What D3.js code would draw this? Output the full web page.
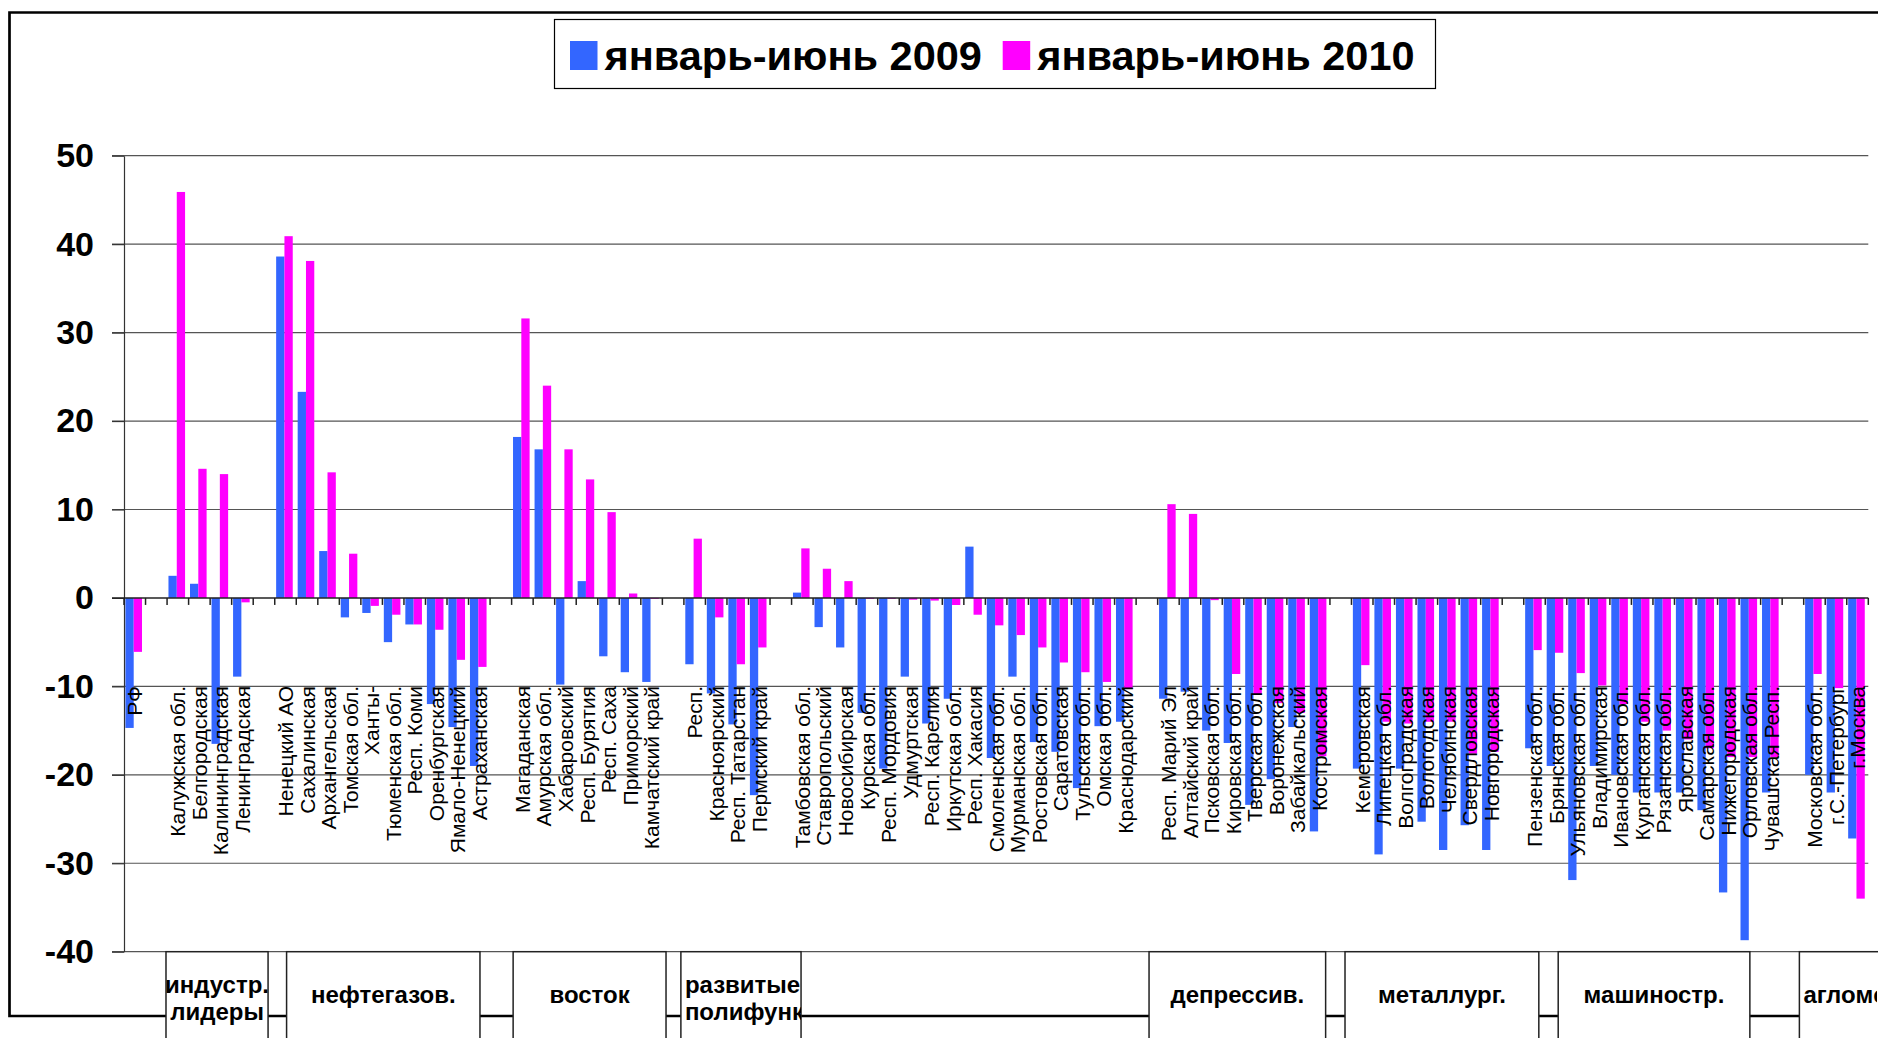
<!DOCTYPE html>
<html>
  <head>
    <meta charset="utf-8">
    <script src="https://d3js.org/d3.v7.min.js"></script>
    <title>январь-июнь 2009 / 2010</title>
    <style>
      html, body {
        margin: 0;
        padding: 0;
        background: white;
      }
      svg text {
        font-family: Arial, "Liberation Sans", sans-serif;
      }
    </style>
  </head>
  <body>
    <svg id="chartSvg" width="1878" height="1038"></svg>
    <script>
      // regions, "" = empty slot between groups
      var regions = [
        "РФ", "",
        "Калужская обл.", "Белгородская", "Калининградская", "Ленинградская", "",
        "Ненецкий АО", "Сахалинская", "Архангельская", "Томская обл.", "Ханты-",
        "Тюменская обл.", "Респ. Коми", "Оренбургская", "Ямало-Ненецкий", "Астраханская", "",
        "Магаданская", "Амурская обл.", "Хабаровский", "Респ. Бурятия", "Респ. Саха",
        "Приморский", "Камчатский край", "",
        "Респ.", "Красноярский", "Респ. Татарстан", "Пермский край", "",
        "Тамбовская обл.", "Ставропольский", "Новосибирская", "Курская обл.", "Респ. Мордовия",
        "Удмуртская", "Респ. Карелия", "Иркутская обл.", "Респ. Хакасия", "Смоленская обл.",
        "Мурманская обл.", "Ростовская обл.", "Саратовская", "Тульская обл.", "Омская обл.",
        "Краснодарский", "",
        "Респ. Марий Эл", "Алтайский край", "Псковская обл.", "Кировская обл.", "Тверская обл.",
        "Воронежская", "Забайкальский", "Костромская", "",
        "Кемеровская", "Липецкая обл.", "Волгоградская", "Вологодская", "Челябинская",
        "Свердловская", "Новгородская", "",
        "Пензенская обл.", "Брянская обл.", "Ульяновская обл.", "Владимирская", "Ивановская обл.",
        "Курганская обл.", "Рязанская обл.", "Ярославская", "Самарская обл.", "Нижегородская",
        "Орловская обл.", "Чувашская Респ.", "",
        "Московская обл.", "г.С.-Петербург", "г.Москва"
      ];

      var jan2009 = [
        -14.7, null,
        2.5, 1.6, -16.5, -8.9, null,
        38.6, 23.3, 5.3, -2.2, -1.7, -5.0, -3.0, -12, -14.6, -19, null,
        18.2, 16.8, -9.8, 1.9, -6.6, -8.4, -9.5, null,
        -7.5, -10.8, -14.3, -22.3, null,
        0.6, -3.3, -5.6, -13, -19.3, -8.9, -14.2, -11.4, 5.8, -18.1, -8.9, -16.3, -17.4, -21.5, -14.5, -14, null,
        -11.4, -10.6, -15, -16.4, -23.4, -20.5, -14.6, -26.4, null,
        -19.3, -29, -19.3, -25.3, -28.5, -25.7, -28.5, null,
        -17, -19, -31.9, -19, -20, -22, -22, -22, -24, -33.3, -38.7, -22, null,
        -20, -22, -27.2
      ];

      var jan2010 = [
        -6.1, null,
        45.9, 14.6, 14.0, -0.5, null,
        40.9, 38.1, 14.2, 5.0, -0.9, -1.9, -3.0, -3.6, -7.0, -7.8, null,
        31.6, 24.0, 16.8, 13.4, 9.7, 0.5, -0.1, null,
        6.7, -2.2, -7.5, -5.6, null,
        5.6, 3.3, 1.9, -0.1, -0.1, -0.2, -0.3, -0.8, -1.9, -3.1, -4.2, -5.6, -7.3, -8.4, -9.5, -10.3, null,
        10.6, 9.5, -0.25, -8.6, -10.9, -11.9, -13, -17.9, null,
        -7.6, -14, -14.2, -14, -14, -17.6, -17.4, null,
        -5.9, -6.2, -8.5, -9.9, -12, -14, -15, -16, -17, -18, -18, -18, null,
        -8.6, -10.2, -34
      ];

      var seriesNames = ["январь-июнь 2009", "январь-июнь 2010"];
      var seriesColors = ["#3366ff", "#ff00ff"];
      var yTicks = [-40, -30, -20, -10, 0, 10, 20, 30, 40, 50];

      // group boxes under the axis: first / last slot (fractional)
      var groupNames = [["индустр.", "лидеры"], ["нефтегазов."], ["восток"], ["развитые", "полифунк"],
                        ["депрессив."], ["металлург."], ["машиностр."], ["агломер."]];
      var groupFrom = [1.95, 7.55, 18.07, 25.86, 47.6, 56.7, 66.6, 77.8];
      var groupTo = [6.69, 16.53, 25.17, 31.44, 55.8, 65.7, 75.5, 84];

      var svg = d3.select("svg"),
          width = +svg.attr("width"),
          height = +svg.attr("height");

      var x = d3.scaleBand()
        .domain(d3.range(regions.length))
        .range([124, 1868.3])
        .paddingInner(0)
        .paddingOuter(0);

      var xs = d3.scaleBand()
        .domain([0, 1])
        .range([1.4, 18]);

      var y = d3.scaleLinear()
        .domain([-40, 50])
        .range([951.7, 155.7]);

      var step = x.bandwidth();
      function slotX(f) { return x.range()[0] + f * step; }

      // outer frame
      svg.append("path")
        .attr("d", "M" + (width + 5) + ",12.5H9.5V1016H" + (width + 5))
        .attr("fill", "none")
        .attr("stroke", "black")
        .attr("stroke-width", 2.7);

      // grid
      svg.append("g")
        .selectAll("line")
        .data(yTicks.filter(function(d) { return d != 0; }))
        .enter()
        .append("line")
        .attr("x1", 112)
        .attr("x2", x.range()[1])
        .attr("y1", function(d) { return y(d); })
        .attr("y2", function(d) { return y(d); })
        .style("stroke", "#555")
        .style("stroke-width", 1.2);

      // bars
      var bars = svg.append("g");
      [jan2009, jan2010].forEach(function(vals, s) {
        bars.selectAll("rect.s" + s)
          .data(vals.map(function(v, i) { return {i: i, v: v}; }).filter(function(d) { return d.v !== null; }))
          .enter()
          .append("rect")
          .attr("class", "s" + s)
          .attr("x", function(d) { return x(d.i) + xs(s); })
          .attr("width", xs.bandwidth())
          .attr("y", function(d) { return y(Math.max(0, d.v)); })
          .attr("height", function(d) { return Math.abs(y(d.v) - y(0)); })
          .style("fill", seriesColors[s]);
      });

      // y axis
      var yAxis = svg.append("g")
        .attr("transform", "translate(124,0)")
        .call(d3.axisLeft(y).tickValues(yTicks).tickFormat(function(d) { return String(d); })
          .tickSize(12).tickPadding(18).tickSizeOuter(0));
      yAxis.select(".domain").attr("stroke", "#333").attr("stroke-width", 1.2);
      yAxis.selectAll(".tick line").attr("stroke", "#333").attr("stroke-width", 1.2);
      yAxis.selectAll(".tick text")
        .style("font-size", "34px")
        .style("font-weight", "bold")
        .style("fill", "black");

      // zero line with category ticks
      var zero = svg.append("g");
      zero.append("line")
        .attr("x1", 112)
        .attr("x2", x.range()[1])
        .attr("y1", y(0))
        .attr("y2", y(0))
        .style("stroke", "#222")
        .style("stroke-width", 1.5);
      zero.selectAll("line.tk")
        .data(d3.range(regions.length + 1))
        .enter()
        .append("line")
        .attr("class", "tk")
        .attr("x1", function(d) { return slotX(d); })
        .attr("x2", function(d) { return slotX(d); })
        .attr("y1", y(0))
        .attr("y2", y(0) + 7)
        .style("stroke", "#222")
        .style("stroke-width", 1.5);

      // category labels, vertical, hanging from y = 686
      svg.append("g")
        .selectAll("text")
        .data(regions.map(function(r, i) { return {i: i, r: r}; }).filter(function(d) { return d.r != ""; }))
        .enter()
        .append("text")
        .attr("transform", function(d) { return "translate(" + (x(d.i) + step / 2) + ",686) rotate(-90)"; })
        .attr("dy", "0.36em")
        .attr("text-anchor", "end")
        .style("font-size", "21px")
        .text(function(d) { return d.r; });

      // group boxes
      var defs = svg.append("defs");
      var groups = svg.append("g");
      groupNames.forEach(function(lines, g) {
        var x0 = slotX(groupFrom[g]), x1 = Math.min(slotX(groupTo[g]), width - 1);
        defs.append("clipPath").attr("id", "gc" + g)
          .append("rect").attr("x", x0).attr("y", y(-40)).attr("width", x1 - x0).attr("height", 200);
        groups.append("rect")
          .attr("x", x0)
          .attr("y", y(-40))
          .attr("width", slotX(groupTo[g]) - x0)
          .attr("height", 200)
          .style("fill", "white")
          .style("stroke", "#222")
          .style("stroke-width", 1.5);
        var leftAlign = (g == 3 || g == 7);
        var t = groups.append("text")
          .attr("clip-path", "url(#gc" + g + ")")
          .attr("text-anchor", leftAlign ? "start" : "middle")
          .style("font-size", "24px")
          .style("font-weight", "bold");
        lines.forEach(function(line, k) {
          t.append("tspan")
            .attr("x", leftAlign ? x0 + 4 : (x0 + x1) / 2)
            .attr("y", lines.length == 1 ? 1003 : 993 + k * 27)
            .text(line);
        });
      });

      // legend
      var legend = svg.append("g");
      legend.append("rect")
        .attr("x", 554.5)
        .attr("y", 19.5)
        .attr("width", 881)
        .attr("height", 69)
        .style("fill", "white")
        .style("stroke", "black")
        .style("stroke-width", 1.2);
      var legX = [570, 1002.7];
      seriesNames.forEach(function(name, s) {
        legend.append("rect")
          .attr("x", legX[s])
          .attr("y", 41)
          .attr("width", 27.5)
          .attr("height", 29)
          .style("fill", seriesColors[s]);
        legend.append("text")
          .attr("x", legX[s] + 34.5)
          .attr("y", 70)
          .style("font-size", "41.5px")
          .style("font-weight", "bold")
          .text(name);
      });
    </script>
  </body>
</html>
